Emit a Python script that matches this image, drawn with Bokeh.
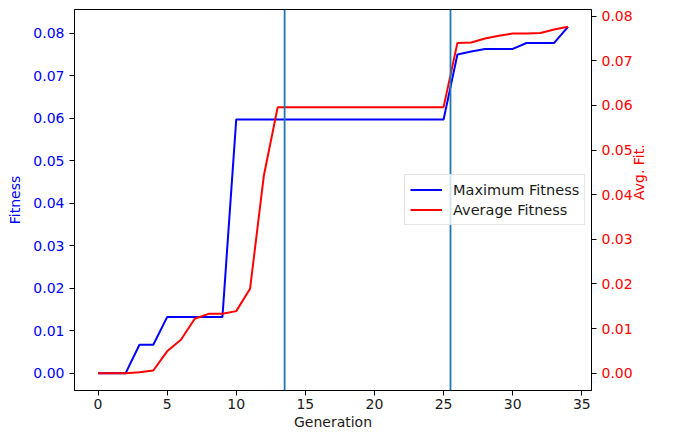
import math
from bokeh.plotting import figure
from bokeh.models import (Range1d, LinearAxis, FixedTicker, NumeralTickFormatter, Span,
                          Legend, LegendItem)
from bokeh.embed import file_html
from bokeh.resources import INLINE

generations = list(range(35))
max_fitness = [0.0, 0.0, 0.0, 0.0067, 0.0067, 0.0132, 0.0132, 0.0132, 0.0132, 0.0132,
               0.0597, 0.0597, 0.0597, 0.0597, 0.0597, 0.0597, 0.0597, 0.0597, 0.0597, 0.0597,
               0.0597, 0.0597, 0.0597, 0.0597, 0.0597, 0.0597,
               0.0750, 0.0757, 0.0763, 0.0763, 0.0763, 0.0777, 0.0777, 0.0777, 0.0815]
avg_fitness = [0.0, 0.0, 0.0, 0.0002, 0.0006, 0.0049, 0.0075, 0.0122, 0.0133, 0.0133,
               0.0139, 0.0189, 0.0443, 0.0596, 0.0596, 0.0596, 0.0596, 0.0596, 0.0596, 0.0596,
               0.0596, 0.0596, 0.0596, 0.0596, 0.0596, 0.0596,
               0.0740, 0.0741, 0.0750, 0.0756, 0.0761, 0.0761, 0.0762, 0.0770, 0.0776]
marker_generations = [13.5, 25.5]
x_ticks = [0, 5, 10, 15, 20, 25, 30, 35]
y_ticks = [0.0, 0.01, 0.02, 0.03, 0.04, 0.05, 0.06, 0.07, 0.08]
series_labels = ["Maximum Fitness", "Average Fitness"]


def padded(vals, frac=0.05):
    lo, hi = min(vals), max(vals)
    d = (hi - lo) * frac
    return lo - d, hi + d


xlo, xhi = padded(generations)
ylo, yhi = padded(max_fitness)
alo, ahi = padded(avg_fitness)

FONT = "DejaVu Sans"
FS = "14px"

W, H = 657, 432

p = figure(width=W, height=H, output_backend="svg", toolbar_location=None,
           x_range=Range1d(xlo, xhi), y_range=Range1d(ylo, yhi),
           min_border_top=9, min_border_left=74, min_border_right=58, min_border_bottom=0)
p.extra_y_ranges = {"avg": Range1d(alo, ahi)}

r1 = p.line(generations, max_fitness, line_color="blue", line_width=2)
r2 = p.line(generations, avg_fitness, line_color="red", line_width=2, y_range_name="avg")

for g in marker_generations:
    p.add_layout(Span(location=g, dimension="height", line_color="#1f77b4", line_width=1.8))

right_axis = LinearAxis(y_range_name="avg", axis_label="Avg. Fit.")
p.add_layout(right_axis, "right")
if "axis_label_orientation" in right_axis.properties():
    right_axis.axis_label_orientation = math.pi / 2

p.xaxis.axis_label = "Generation"
p.yaxis[0].axis_label = "Fitness"

p.xaxis.ticker = FixedTicker(ticks=x_ticks)
for ax in [p.yaxis[0], right_axis]:
    ax.ticker = FixedTicker(ticks=y_ticks)
    ax.formatter = NumeralTickFormatter(format="0.00")

for ax in [p.xaxis[0], p.yaxis[0], right_axis]:
    ax.major_tick_out = 5
    ax.major_tick_in = 0
    ax.minor_tick_out = 0
    ax.minor_tick_in = 0
    ax.major_label_text_font = FONT
    ax.major_label_text_font_size = FS
    ax.axis_label_text_font = FONT
    ax.axis_label_text_font_size = FS
    ax.axis_label_text_font_style = "normal"
    ax.major_label_standoff = 5
    ax.axis_label_standoff = 7
    ax.axis_line_color = "black"
    ax.major_tick_line_color = "black"

p.xaxis.major_label_standoff = 3
p.xaxis.axis_label_standoff = 2
right_axis.major_label_standoff = 5
right_axis.axis_label_standoff = 3
p.xaxis.major_label_text_color = "#1a1a1a"
p.xaxis.axis_label_text_color = "#1a1a1a"
p.yaxis[0].major_label_text_color = "blue"
p.yaxis[0].axis_label_text_color = "blue"
right_axis.major_label_text_color = "red"
right_axis.axis_label_text_color = "red"

p.grid.visible = False
p.outline_line_color = "black"
p.outline_line_alpha = 1.0
p.background_fill_color = "white"
p.border_fill_color = "white"

legend = Legend(items=[LegendItem(label=series_labels[0], renderers=[r1]),
                       LegendItem(label=series_labels[1], renderers=[r2])],
                location=(330, 165))
legend.border_line_color = "#cccccc"
legend.background_fill_alpha = 0.8
legend.label_text_font = FONT
legend.label_text_font_size = "14.5px"
legend.label_text_color = "#1a1a1a"
legend.padding = 5
legend.spacing = 1
legend.glyph_width = 32
legend.glyph_height = 19
legend.label_height = 19
legend.label_standoff = 11
legend.margin = 0
p.add_layout(legend)

open("out.html", "w").write(file_html(p, INLINE))
